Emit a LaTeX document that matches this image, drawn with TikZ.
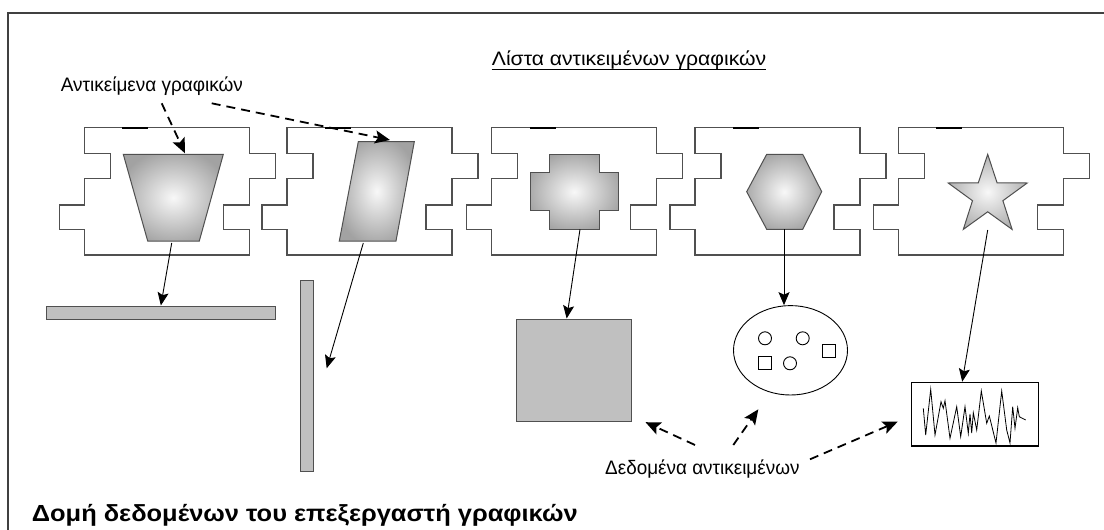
\documentclass[tikz,border=0pt]{standalone}
\usepackage{fontspec}
\usepackage{graphicx}
\setmainfont{Liberation Sans}
\usetikzlibrary{arrows.meta,calc,shapes.geometric}

\definecolor{outline}{HTML}{505050}
\definecolor{framegray}{HTML}{404040}
\definecolor{barfill}{HTML}{C0C0C0}
\definecolor{glowin}{HTML}{F8F8F8}
\definecolor{glowout}{HTML}{A2A2A2}
\definecolor{starout}{HTML}{B2B2B2}
\pgfdeclareradialshading{glow}{\pgfpointorigin}{color(0bp)=(glowin); color(28bp)=(glowout); color(50bp)=(glowout)}
\pgfdeclareradialshading{starglow}{\pgfpointorigin}{color(0bp)=(glowin); color(25bp)=(starout); color(50bp)=(starout)}

% set a label to a fixed width, keeping its height and baseline
\newcommand{\fitlabel}[2]{\resizebox{#1}{\height}{#2}}

\tikzset{
  pieceline/.style={draw=outline, line width=1.2pt},
  tabmark/.style={draw=black, line width=2.4pt},
  gobj/.style={draw=outline, line width=1pt, shading=glow},
  databar/.style={draw=outline, fill=barfill, line width=1pt, rectangle, inner sep=0pt},
  tinyshape/.style={draw=black, line width=0.9pt, fill=white, inner sep=0pt, minimum size=13pt},
  link/.style={-{Stealth[length=13pt,width=11pt,inset=2.5pt]}, line width=0.9pt},
  hint/.style={-{Stealth[length=15pt,width=13pt,inset=3pt]}, line width=1.8pt, dash pattern=on 9pt off 6pt},
  caption/.style={inner sep=0pt, anchor=base west, font=\fontsize{19.5}{23}\selectfont},
  piece/.pic={
    \draw[pieceline] (0,0) -- (165,0) -- (165,25.6) -- (191,25.6) -- (191,50.6) -- (165,50.6)
      -- (165,77.3) -- (139,77.3) -- (139,101.6) -- (165,101.6) -- (165,127.3) -- (0,127.3)
      -- (0,101.6) -- (-25,101.6) -- (-25,77.3) -- (0,77.3) -- (0,50.6) -- (26,50.6)
      -- (26,25.6) -- (0,25.6) -- cycle;
    \draw[tabmark] (38,0) -- (64,0);
  }
}

\begin{document}
\begin{tikzpicture}[x=1pt,y=-1pt]
  % canvas
  \path[use as bounding box, fill=white] (0,0) rectangle (1104,530);
  \draw[framegray, line width=1.1pt] (1104,13) -- (8,13) -- (8,530);

  % list of graphics objects (puzzle pieces)
  \foreach \px in {84.3,287,491.7,695,898.3}
    \pic at (\px,127.7) {piece};

  % graphics objects
  \path[gobj] (123.3,154.3) -- (223.3,154.3) -- (199.3,241) -- (147.7,241) -- cycle;
  \path[gobj] (358.3,141.7) -- (414.3,141.7) -- (396,241) -- (339.3,241) -- cycle;
  \path[gobj] (549.3,154.3) -- (599.3,154.3) -- (599.3,172.7) -- (618.3,172.7) -- (618.3,210)
    -- (599.3,210) -- (599.3,229.3) -- (549.3,229.3) -- (549.3,210) -- (530,210)
    -- (530,172.7) -- (549.3,172.7) -- cycle;
  \path[gobj] (766.7,154.3) -- (802.7,154.3) -- (821.7,191.7) -- (802.7,229.3)
    -- (766.7,229.3) -- (746.7,191.7) -- cycle;
  \path[gobj, shading=starglow] (987.7,154.3) -- (997.1,182.9) -- (1027.2,183) -- (1002.9,200.7)
    -- (1012.1,229.4) -- (987.7,211.8) -- (963.3,229.4) -- (972.5,200.7) -- (948.2,183)
    -- (978.3,182.9) -- cycle;

  % anchor points on the graphics objects
  \coordinate (traptop) at (185,153.3);
  \coordinate (paratop) at (390,140);
  \coordinate (trapbot) at (171.7,243);
  \coordinate (parabot) at (363.3,243);
  \coordinate (crossbot) at (580,229.3);
  \coordinate (hexbot) at (784,229.3);
  \coordinate (starbot) at (987.7,230);

  % object data
  \node[databar, minimum width=229.7pt, minimum height=13.3pt] (hbar) at (160.85,312.65) {};
  \node[databar, minimum width=13.3pt, minimum height=191pt] (vbar) at (306.65,376.2) {};
  \coordinate (vtip) at (326.7,368.3);
  \node[databar, minimum width=115pt, minimum height=102pt] (block) at (574.2,370) {};
  \node[ellipse, draw=black, line width=0.9pt, fill=white, inner sep=0pt,
        minimum width=114pt, minimum height=89.4pt] (pool) at (790.5,350.3) {};
  \node[tinyshape, circle] (c1) at (765,338.3) {};
  \node[tinyshape, circle] (c2) at (802.7,338.3) {};
  \node[tinyshape, circle] (c3) at (790,363.3) {};
  \node[tinyshape, rectangle] (s1) at (765,363.3) {};
  \node[tinyshape, rectangle] (s2) at (829,350.7) {};
  \node[draw=black, line width=1.2pt, fill=white, inner sep=0pt,
        minimum width=126.6pt, minimum height=63.7pt] (wave) at (975,414.15) {};
  \draw[line width=0.8pt, line join=miter] (923.3,408.3) -- (925.7,435) -- (930.7,389.3) -- (935,435)
    -- (941,401.7) -- (943.3,408.3) -- (945,400.7) -- (950,438.3) -- (956.7,406.7)
    -- (960.7,436.7) -- (965,406.7) -- (968.3,433.3) -- (970,414) -- (971.7,433)
    -- (973.3,412.7) -- (976.7,430) -- (981.3,391) -- (986.7,423.3) -- (989.3,416)
    -- (996,443) -- (1001.7,391) -- (1006.7,430) -- (1010,443) -- (1012.7,406.7)
    -- (1015,428.3) -- (1017.7,407.7) -- (1019.3,416.7) -- (1025.7,420);

  % object -> data links
  \draw[link] (trapbot) -- (hbar.north);
  \draw[link] (parabot) -- (vtip);
  \draw[link] (crossbot) -- ($(block.north west)!0.435!(block.north east)$);
  \draw[link] (hexbot) -- (hexbot |- pool.north);
  \draw[link] (starbot) -- ($(wave.north west)!0.40!(wave.north east)$);

  % labels
  \node[caption] (listlabel) at (491.7,66) {\fitlabel{274.3pt}{Λίστα αντικειμένων γραφικών}};
  \draw[line width=1.2pt] ($(listlabel.base west)+(0,3.3)$) -- ($(listlabel.base east)+(0,3.3)$);
  \node[caption] (objlabel) at (60.7,91.7) {\fitlabel{182pt}{Αντικείμενα γραφικών}};
  \node[caption] (datalabel) at (605,474.3) {\fitlabel{194.3pt}{Δεδομένα αντικειμένων}};
  \node[inner sep=0pt, anchor=base west, font=\fontsize{23.3}{27}\selectfont\bfseries]
    (title) at (31.7,521.7) {\fitlabel{545.6pt}{Δομή δεδομένων του επεξεργαστή γραφικών}};

  % pointers from labels
  \coordinate (objA) at (161.7,103.3);
  \coordinate (objB) at (211.7,103.3);
  \draw[hint] (objA) -- (traptop);
  \draw[hint] (objB) -- (paratop);
  \coordinate (datA) at (695,445);
  \coordinate (datB) at (733.3,445);
  \coordinate (datC) at (810,459.3);
  \draw[hint] (datA) -- ($(block.south east)+(13.3,0.7)$);
  \draw[hint] (datB) -- (758.3,409.3);
  \draw[hint] (datC) -- ($(wave.west)+(-13.4,7.5)$);
\end{tikzpicture}
\end{document}
